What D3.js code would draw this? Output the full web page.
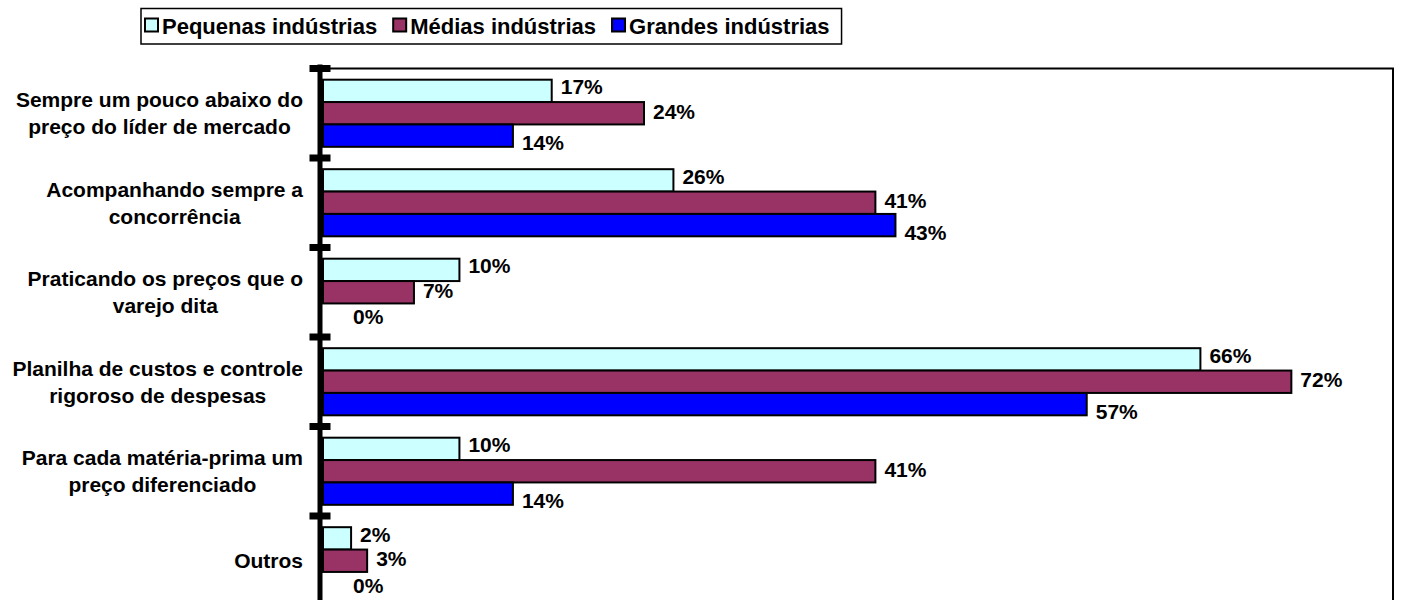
<!DOCTYPE html>
<html>
<head>
<meta charset="utf-8">
<script src="https://cdn.jsdelivr.net/npm/d3@7"></script>
<style>
  html, body { margin: 0; padding: 0; background: #fff; }
  svg { display: block; font-family: "Liberation Sans", Arial, sans-serif; font-weight: bold; }
</style>
</head>
<body>
<svg id="chart" width="1401" height="600"></svg>
<script>
const categories = [
  ["Sempre um pouco abaixo do", "preço do líder de mercado"],
  ["Acompanhando sempre a", "concorrência"],
  ["Praticando os preços que o", "varejo dita"],
  ["Planilha de custos e controle", "rigoroso de despesas"],
  ["Para cada matéria-prima um", "preço diferenciado"],
  ["Outros"]
];
const seriesNames = ["Pequenas indústrias", "Médias indústrias", "Grandes indústrias"];
const pequenas = [0.171, 0.262, 0.102, 0.656, 0.102, 0.021];
const medias   = [0.240, 0.413, 0.068, 0.724, 0.413, 0.033];
const grandes  = [0.142, 0.428, 0.000, 0.571, 0.142, 0.000];
const seriesColors = ["#CCFFFF", "#993366", "#0000FF"];
const xDomain = [0, 0.8];

const series = [pequenas, medias, grandes];
const svg = d3.select("#chart");

const plot = { left: 323, right: 1393, top: 68.5, bottom: 605.5 };
const x = d3.scaleLinear().domain(xDomain).range([plot.left, plot.right]);
const y = d3.scaleBand().domain(d3.range(categories.length)).range([plot.top, plot.bottom]);
const yInner = d3.scaleBand().domain(d3.range(series.length))
  .range([y.bandwidth() * 0.125, y.bandwidth() * 0.875]);

// plot border (top and right)
svg.append("path")
  .attr("d", `M${plot.left},${plot.top}H${plot.right}V${plot.bottom}`)
  .attr("fill", "none").attr("stroke", "#000").attr("stroke-width", 2);

// bars + value labels
const fmt = d3.format(".0%");
const labelDy = [-4, -2, 7];
series.forEach((vals, si) => {
  const g = svg.append("g");
  g.selectAll("rect").data(vals).join("rect")
    .attr("x", x(0))
    .attr("y", (d, i) => y(i) + yInner(si))
    .attr("width", d => Math.max(0, x(d) - x(0)))
    .attr("height", yInner.bandwidth())
    .attr("fill", seriesColors[si])
    .attr("stroke", d => d > 0 ? "#000" : "none")
    .attr("stroke-width", 2);
  g.selectAll("text").data(vals).join("text")
    .attr("x", d => d > 0 ? x(d) + 9 : x(0) + 30)
    .attr("y", (d, i) => y(i) + yInner(si) + yInner.bandwidth() / 2 + (d > 0 ? labelDy[si] : 2))
    .attr("dominant-baseline", "central")
    .attr("font-size", 21)
    .attr("fill", "#000")
    .text(d => fmt(d));
});

// left axis (thick) with tick marks
const axisG = svg.append("g").attr("transform", `translate(320,0)`);
axisG.append("line").attr("x1", 0).attr("x2", 0).attr("y1", plot.top - 4).attr("y2", plot.bottom)
  .attr("stroke", "#000").attr("stroke-width", 5);
const tickPos = d3.range(categories.length + 1).map(i => plot.top + i * y.step());
axisG.selectAll("rect.tick").data(tickPos).join("rect")
  .attr("class", "tick")
  .attr("x", -10.5).attr("width", 21)
  .attr("y", d => d - 3.5).attr("height", 7)
  .attr("fill", "#000");

// category labels: block right-aligned, lines centered within block
const lineH = 27;
categories.forEach((lines, i) => {
  const g = svg.append("g");
  const cy = y(i) + y.bandwidth() / 2;
  const texts = lines.map((ln, li) => g.append("text")
    .attr("font-size", 21)
    .attr("y", cy + (li - (lines.length - 1) / 2) * lineH)
    .attr("dominant-baseline", "central")
    .attr("text-anchor", "middle")
    .text(ln));
  const maxW = d3.max(texts, t => t.node().getComputedTextLength());
  const cx = 303 - maxW / 2;
  texts.forEach(t => t.attr("x", cx));
});

// legend
const legend = svg.append("g");
const legX = 141;
const legBox = legend.append("rect")
  .attr("x", legX).attr("y", 8.5).attr("height", 35.5)
  .attr("fill", "#fff").attr("stroke", "#000").attr("stroke-width", 1.5);
let lx = 145;
seriesNames.forEach((name, si) => {
  legend.append("rect")
    .attr("x", lx).attr("y", 18.5).attr("width", 13).attr("height", 13)
    .attr("fill", seriesColors[si]).attr("stroke", "#000").attr("stroke-width", 2);
  const t = legend.append("text")
    .attr("x", lx + 17).attr("y", 26)
    .attr("dominant-baseline", "central")
    .attr("font-size", 22)
    .text(name);
  lx += 17 + t.node().getComputedTextLength() + 16;
});
legBox.attr("width", lx - legX - 4);
</script>
</body>
</html>
